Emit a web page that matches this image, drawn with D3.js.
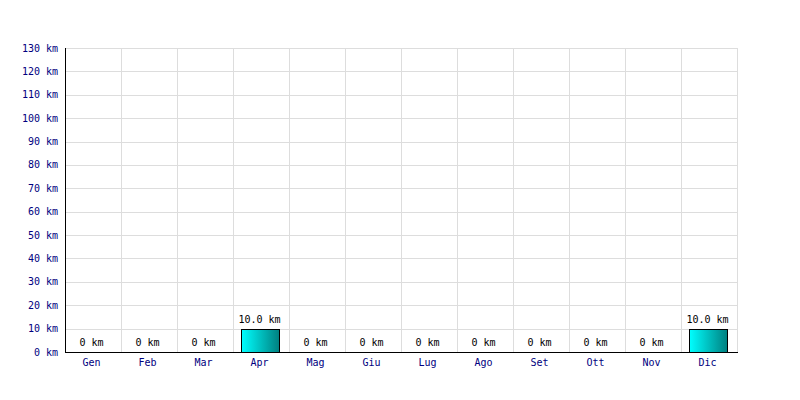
<!DOCTYPE html>
<html><head><meta charset="utf-8">
<script src="https://cdn.jsdelivr.net/npm/d3@7"></script>
<style>body{margin:0;background:#fff}</style>
</head><body><svg id="c" width="800" height="400"></svg>
<script>
const months = ["Gen","Feb","Mar","Apr","Mag","Giu","Lug","Ago","Set","Ott","Nov","Dic"];
const values = [0,0,0,10,0,0,0,0,0,0,0,10];
const yTicks = [0,10,20,30,40,50,60,70,80,90,100,110,120,130];
const unit = "km";

(function(){
const svg = d3.select("#c");
const pL=65,pR=737,pT=48,pB=352;
const font="'DejaVu Sans Mono', monospace";
const x = d3.scaleBand().domain(months).range([pL,pR]).paddingInner(0).paddingOuter(0);
const y = d3.scaleLinear().domain([0,130]).range([pB,pT]);
const cx = m => x(m)+x.bandwidth()/2-1.5;

const defs = svg.append("defs");
const g = defs.append("linearGradient").attr("id","bg").attr("x1","0").attr("x2","1").attr("y1","0").attr("y2","0");
g.append("stop").attr("offset","0").attr("stop-color","#00ffff");
g.append("stop").attr("offset","1").attr("stop-color","#008080");

// grid
svg.append("g").selectAll("line").data(yTicks).join("line")
 .attr("x1",pL).attr("x2",pR).attr("y1",d=>Math.round(y(d))+0.5).attr("y2",d=>Math.round(y(d))+0.5)
 .attr("stroke","#dddddd");
const vx = months.map(m=>x(m)).concat([pR]);
svg.append("g").selectAll("line").data(vx).join("line")
 .attr("x1",d=>Math.round(d)+0.5).attr("x2",d=>Math.round(d)+0.5).attr("y1",pT).attr("y2",pB)
 .attr("stroke","#dddddd");

// bars
const bw = 38;
const data = values.map((v,i)=>({m:months[i],v}));
svg.append("g").selectAll("rect").data(data.filter(d=>d.v>0)).join("rect")
 .attr("x",d=>Math.round(cx(d.m)-bw/2)+0.5).attr("width",bw)
 .attr("y",d=>Math.round(y(d.v))+0.5).attr("height",d=>pB-Math.round(y(d.v)))
 .attr("fill","url(#bg)").attr("stroke","#000");

// value labels
svg.append("g").selectAll("text").data(data).join("text")
 .attr("x",d=>cx(d.m)).attr("y",d=>y(d.v)-6)
 .attr("text-anchor","middle").attr("font-family",font).attr("font-size",10).attr("fill","#000")
 .text(d=>(d.v===0?"0":d.v.toFixed(1))+" "+unit);

// axes lines
svg.append("line").attr("x1",pL+0.5).attr("x2",pL+0.5).attr("y1",pT).attr("y2",pB+1).attr("stroke","#000");
svg.append("line").attr("x1",pL).attr("x2",pR+1).attr("y1",pB+0.5).attr("y2",pB+0.5).attr("stroke","#000");

// y labels
svg.append("g").selectAll("text").data(yTicks).join("text")
 .attr("x",58).attr("y",d=>y(d)+3.5).attr("text-anchor","end")
 .attr("font-family",font).attr("font-size",10).attr("fill","#000080")
 .text(d=>d+" "+unit);

// x labels
svg.append("g").selectAll("text").data(months).join("text")
 .attr("x",d=>cx(d)).attr("y",366).attr("text-anchor","middle")
 .attr("font-family",font).attr("font-size",10).attr("fill","#000080")
 .text(d=>d);
})();
</script></body></html>
